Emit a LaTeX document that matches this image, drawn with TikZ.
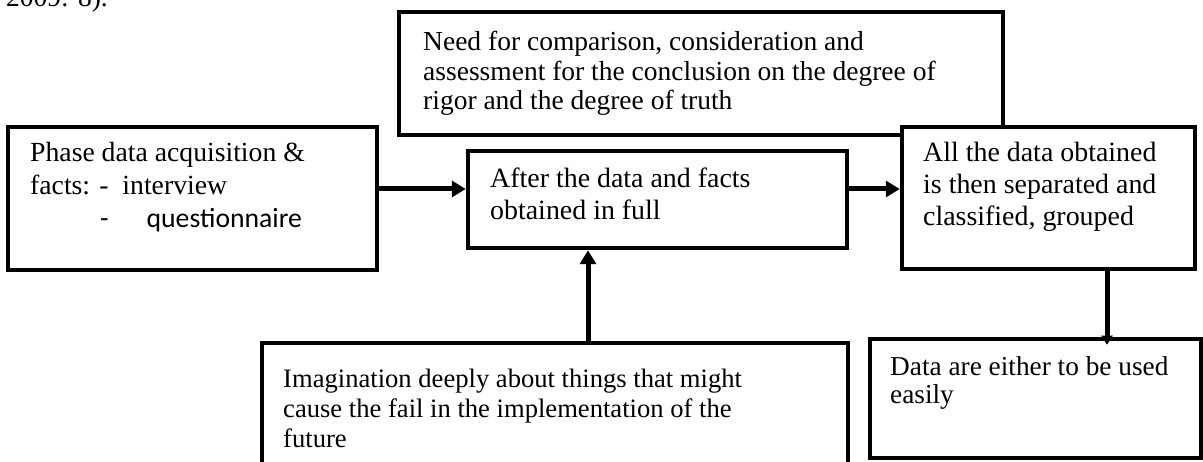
\documentclass[tikz,border=0pt]{standalone}
\usepackage{fontspec}
\setmainfont{Liberation Serif}
\newfontfamily\calibrifont{Carlito}
\usetikzlibrary{arrows.meta}

\begin{document}
\begin{tikzpicture}[x=1pt, y=-1pt,
    box/.style={draw, line width=4.5pt, fill=white, inner sep=0pt},
    txt/.style={anchor=base west, align=left, inner sep=0pt},
    flow/.style={line width=5pt, -{Triangle[length=14pt, width=16pt]}}]
  % --- page cut: the figure is a crop of a larger page ---
  \useasboundingbox (0,0) rectangle (1203,462);
  \clip (0,0) rectangle (1203,462);
  % tail of the running text above the figure
  \node[txt, font=\fontsize{27.5}{32}\selectfont] (cite) at (6,7) {2009: 8).};
  % boxes: centre, then size
  \node[box, minimum width=604pt, minimum height=123pt] (need) at (701,73.5) {};
  \node[box, minimum width=369pt, minimum height=143pt] (phase) at (192.5,198.5) {};
  \node[box, minimum width=379pt, minimum height=97pt] (after) at (657.5,199.5) {};
  \node[box, minimum width=293pt, minimum height=142pt] (all) at (1048.5,198) {};
  \node[box, minimum width=586pt, minimum height=150pt] (imag) at (555,418) {};
  \node[box, minimum width=331pt, minimum height=119pt] (data) at (1035.5,398.5) {};
  % texts, placed at the baseline of their last line
  \node[txt, font=\fontsize{27.5}{29.5}\selectfont] (needtxt) at (423,110)
    {Need for comparison, consideration and\\assessment for the conclusion on the degree of\\rigor and the degree of truth};
  \node[txt, font=\fontsize{27.7}{33}\selectfont] (phasetxt) at (30,228)
    {Phase data acquisition \&\\facts: - \ interview\\\hspace*{70pt}{\calibrifont -\hspace{38pt}questionnaire}};
  \node[txt, font=\fontsize{27.9}{32}\selectfont] (aftertxt) at (490,220)
    {After the data and facts\\obtained in full};
  \node[txt, font=\fontsize{27.9}{32}\selectfont] (alltxt) at (923,226)
    {All the data obtained\\is then separated and\\classified, grouped};
  \node[txt, font=\fontsize{26.6}{30}\selectfont] (imagtxt) at (283,447)
    {Imagination deeply about things that might\\cause the fail in the implementation of the\\future};
  \node[txt, font=\fontsize{27.3}{28}\selectfont] (datatxt) at (890,403)
    {Data are either to be used\\easily};
  % connectors
  \coordinate (row) at (0,189);
  \coordinate (upx) at (588,0);
  \coordinate (downx) at (1107,0);
  \draw[flow] (phase.east |- row) -- (after.west |- row);
  \draw[flow] (after.east |- row) -- (all.west |- row);
  \draw[flow] (imag.north -| upx) -- (after.south -| upx);
  \draw[line width=5pt, -{Triangle[length=9pt, width=11pt]}] (all.south -| downx) -- ([yshift=-8pt]data.north -| downx);
\end{tikzpicture}
\end{document}
